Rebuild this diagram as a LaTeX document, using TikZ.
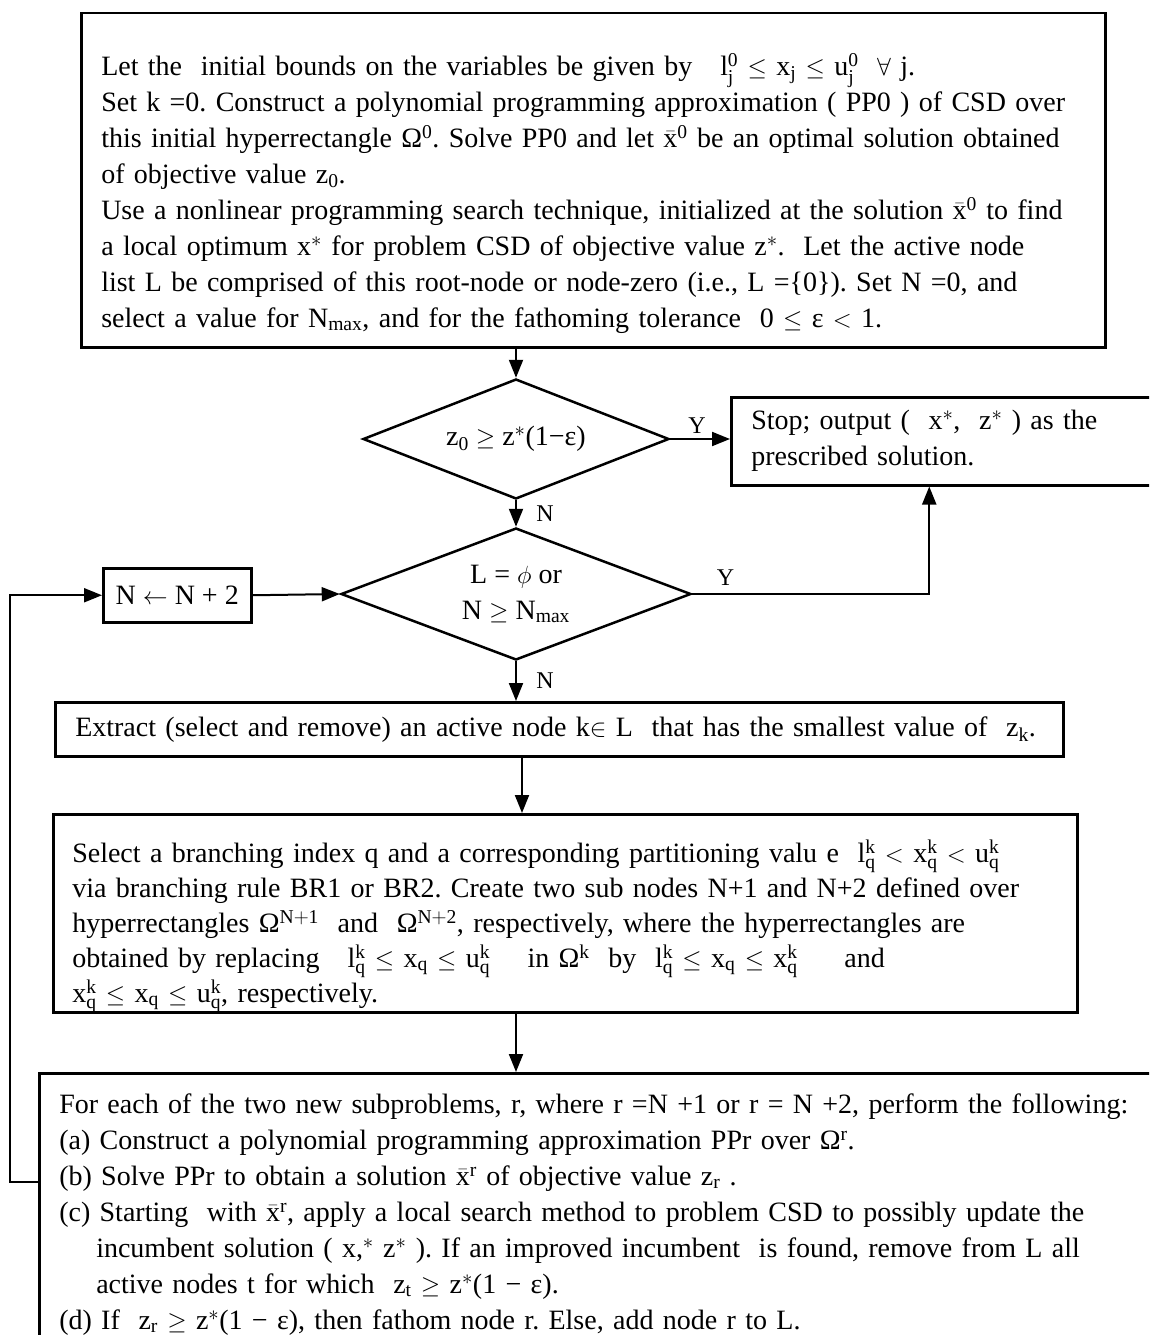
\documentclass[tikz,border=0pt]{standalone}
\usepackage{amsmath}
\usepackage{amssymb}
\usepackage{fontspec}
\setmainfont{Liberation Serif}
\usetikzlibrary{shapes.geometric,arrows.meta}
\frenchspacing

\newcommand{\sups}[1]{$^{\mathrm{#1}}$}
\newcommand{\subs}[1]{$_{\mathrm{#1}}$}
\newcommand{\supsub}[2]{$^{\mathrm{#1}}_{\mathrm{#2}}$}
\newcommand{\xbar}{$\bar{\mathrm{x}}$}

\begin{document}
\begin{tikzpicture}[x=1pt,y=-1pt,
    box/.style={draw,line width=2.5pt,rectangle,anchor=north west,inner xsep=20pt,inner ysep=0pt,
        align=left,font=\fontsize{28}{36}\selectfont},
    test/.style={draw,line width=2.5pt,diamond,inner sep=0pt,align=center,
        font=\fontsize{28}{36}\selectfont},
    arr/.style={line width=2pt,-{Triangle[length=18pt,width=14pt]}},
    yn/.style={font=\fontsize{24}{28}\selectfont}]

\useasboundingbox (0,0) rectangle (1149,1335);
\clip (0,0) rectangle (1149,1335);

\node[box,minimum width=1024pt,minimum height=334pt,text width=984pt] (init) at (80,12) {%
\rule{0pt}{48pt}Let the~ initial bounds on the variables be given by~~ l\supsub{0}{j} $\leq$ x\subs{j} $\leq$ u\supsub{0}{j}~ $\forall$ j.\\
Set k =0. Construct a polynomial programming approximation ( PP0 ) of CSD over\\
this initial hyperrectangle Ω\sups{0}. Solve PP0 and let \xbar\sups{0} be an optimal solution obtained\\
of objective value z\subs{0}.\\
Use a nonlinear programming search technique, initialized at the solution \xbar\sups{0} to find\\
a local optimum x\sups{*} for problem CSD of objective value z\sups{*}.~ Let the active node\\
list L be comprised of this root-node or node-zero (i.e., L =\{0\}). Set N =0, and\\
select a value for N\subs{max}, and for the fathoming tolerance~ 0 $\leq$ ε $<$ 1.};

\node[test,minimum width=306pt,minimum height=120pt,aspect=2.55] (d1) at (516,439)
    {z\subs{0} $\geq$ z\sups{*}(1−ε)};
\node[box,minimum width=440pt,minimum height=88pt,text width=400pt,inner xsep=17pt] (stop) at (730,396)
    {Stop; output (~ x\sups{*},~ z\sups{*} ) as the\\prescribed solution.};
\node[test,minimum width=350pt,minimum height=132pt,aspect=2.65] (d2) at (516,594)
    {L = $\phi$ or\\N $\geq$ N\subs{max}};
\node[box,minimum width=148pt,minimum height=54pt,inner xsep=6pt,align=center] (inc) at (102,567)
    {N $\leftarrow$ N + 2};
\node[box,minimum width=1008pt,minimum height=54pt,text width=968pt] (ext) at (54,701)
    {Extract (select and remove) an active node k$\in$ L~ that has the smallest value of~ z\subs{k}.};

\node[box,minimum width=1024pt,minimum height=196pt,text width=986pt,inner xsep=19pt,
    font=\fontsize{28}{35}\selectfont] (sel) at (52,813) {%
\rule{0pt}{48pt}Select a branching index q and a corresponding partitioning valu e~ l\supsub{k}{q} $<$ x\supsub{k}{q} $<$ u\supsub{k}{q}\\
via branching rule BR1 or BR2. Create two sub nodes N+1 and N+2 defined over\\
hyperrectangles Ω\sups{N+1}~ and~ Ω\sups{N+2}, respectively, where the hyperrectangles are\\
obtained by replacing~~ l\supsub{k}{q} $\leq$ x\subs{q} $\leq$ u\supsub{k}{q}~~~ in Ω\sups{k}~ by~ l\supsub{k}{q} $\leq$ x\subs{q} $\leq$ x\supsub{k}{q}~~~~ and\\
x\supsub{k}{q} $\leq$ x\subs{q} $\leq$ u\supsub{k}{q}, respectively.};

\node[box,minimum width=1140pt,minimum height=282pt,text width=1100pt] (sub) at (38,1072) {%
For each of the two new subproblems, r, where r =N +1 or r = N +2, perform the following:\\
(a) Construct a polynomial programming approximation PPr over Ω\sups{r}.\\
(b) Solve PPr to obtain a solution \xbar\sups{r} of objective value z\subs{r} .\\
(c) Starting~ with \xbar\sups{r}, apply a local search method to problem CSD to possibly update the\\
\hspace*{37pt}incumbent solution ( x,\sups{*} z\sups{*} ). If an improved incumbent~ is found, remove from L all\\
\hspace*{37pt}active nodes t for which~ z\subs{t} $\geq$ z\sups{*}(1 − ε).\\
(d) If~ z\subs{r} $\geq$ z\sups{*}(1 − ε), then fathom node r. Else, add node r to L.};

\coordinate (loop) at (10,1182);

% arrows
\draw[arr] (d1.north |- init.south) -- (d1.north);
\draw[arr] (d1.east) -- (d1.east -| stop.west) node[yn,pos=0.45,above=1pt] {Y};
\draw[arr] (d1.south) -- (d2.north) node[yn,pos=0.5,right=16pt] {N};
\draw[arr] (d2.east) -| ([xshift=-22pt]stop.south) node[yn,pos=0.07,above=4pt] {Y};
\draw[arr] (inc.east) -- (d2.west);
\draw[arr] (d2.south) -- (d2.south |- ext.north) node[yn,pos=0.5,right=16pt] {N};
\draw[arr] ([xshift=6pt]d2.south |- ext.south) -- ([xshift=6pt]d2.south |- sel.north);
\draw[arr] (d2.south |- sel.south) -- (d2.south |- sub.north);
\draw[arr] (sub.west |- loop) -- (loop) |- (inc.west);
\end{tikzpicture}
\end{document}
